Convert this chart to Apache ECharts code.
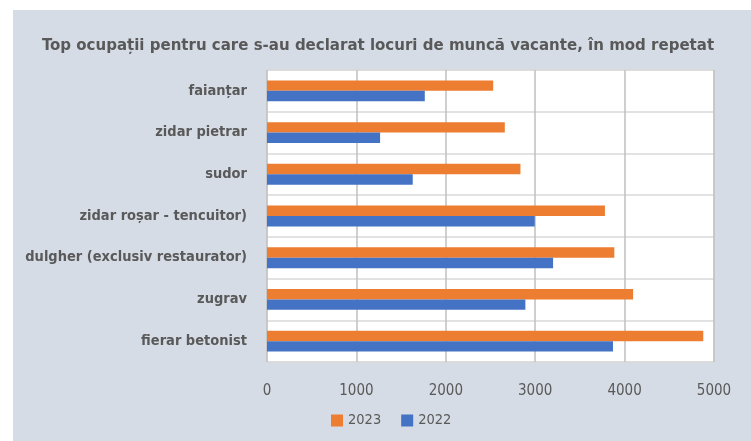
<!DOCTYPE html>
<html><head><meta charset="utf-8">
<script src="https://cdn.jsdelivr.net/npm/echarts@6/dist/echarts.min.js"></script>
<style>
html,body{margin:0;padding:0;background:#fff;}
#c{position:absolute;left:13px;top:10px;width:738px;height:431px;}
</style></head>
<body><div id="c"></div>
<script>
const categories = ['faianțar','zidar pietrar','sudor','zidar roșar - tencuitor)','dulgher (exclusiv restaurator)','zugrav','fierar betonist'];
const values2023 = [2530, 2660, 2835, 3780, 3885, 4095, 4880];
const values2022 = [1765, 1265, 1630, 2995, 3200, 2890, 3870];
const seriesNames = ['2023','2022'];
const xTicks = [0,1000,2000,3000,4000,5000];

const FONT = '"Liberation Sans Narrow","DejaVu Sans Condensed","Roboto Condensed",sans-serif';
const chart = echarts.init(document.getElementById('c'));
chart.setOption({
  backgroundColor:'#d6dce5',
  animation:false,
  title:{text:'Top ocupații pentru care s-au declarat locuri de muncă vacante, în mod repetat',
    left:360, textAlign:'center', top:22,
    textStyle:{fontFamily:FONT,fontSize:16.7,fontWeight:'bold',color:'#595959'}},
  legend:{data:seriesNames, bottom:8, left:313, itemWidth:12, itemHeight:12, itemGap:20,
    icon:'rect', textStyle:{fontFamily:FONT,fontSize:14.5,color:'#595959'}},
  grid:{left:254, right:37, top:60, bottom:79, outerBoundsMode:'none', show:true, backgroundColor:'#fff', borderColor:'#d9d9d9', borderWidth:1},
  xAxis:{type:'value', min:xTicks[0], max:xTicks[xTicks.length-1], interval:1000,
    axisLine:{show:false}, axisTick:{show:false},
    axisLabel:{fontFamily:FONT,fontSize:15,color:'#595959',margin:22, formatter:v=>String(v)},
    splitLine:{lineStyle:{color:'#bfbfbf',width:1.5}}},
  yAxis:{type:'category', data:categories, inverse:true,
    axisLine:{show:false}, axisTick:{show:false},
    axisLabel:{fontFamily:FONT,fontSize:14.5,fontWeight:'bold',color:'#595959',margin:20},
    splitLine:{show:true,lineStyle:{color:'#d9d9d9',width:1.5}}},
  series:[
    {name:seriesNames[0], type:'bar', data:values2023, itemStyle:{color:'#ed7d31'}, barGap:'0%', barCategoryGap:'50%'},
    {name:seriesNames[1], type:'bar', data:values2022, itemStyle:{color:'#4472c4'}, barGap:'0%', barCategoryGap:'50%'}
  ]
});
</script></body></html>
